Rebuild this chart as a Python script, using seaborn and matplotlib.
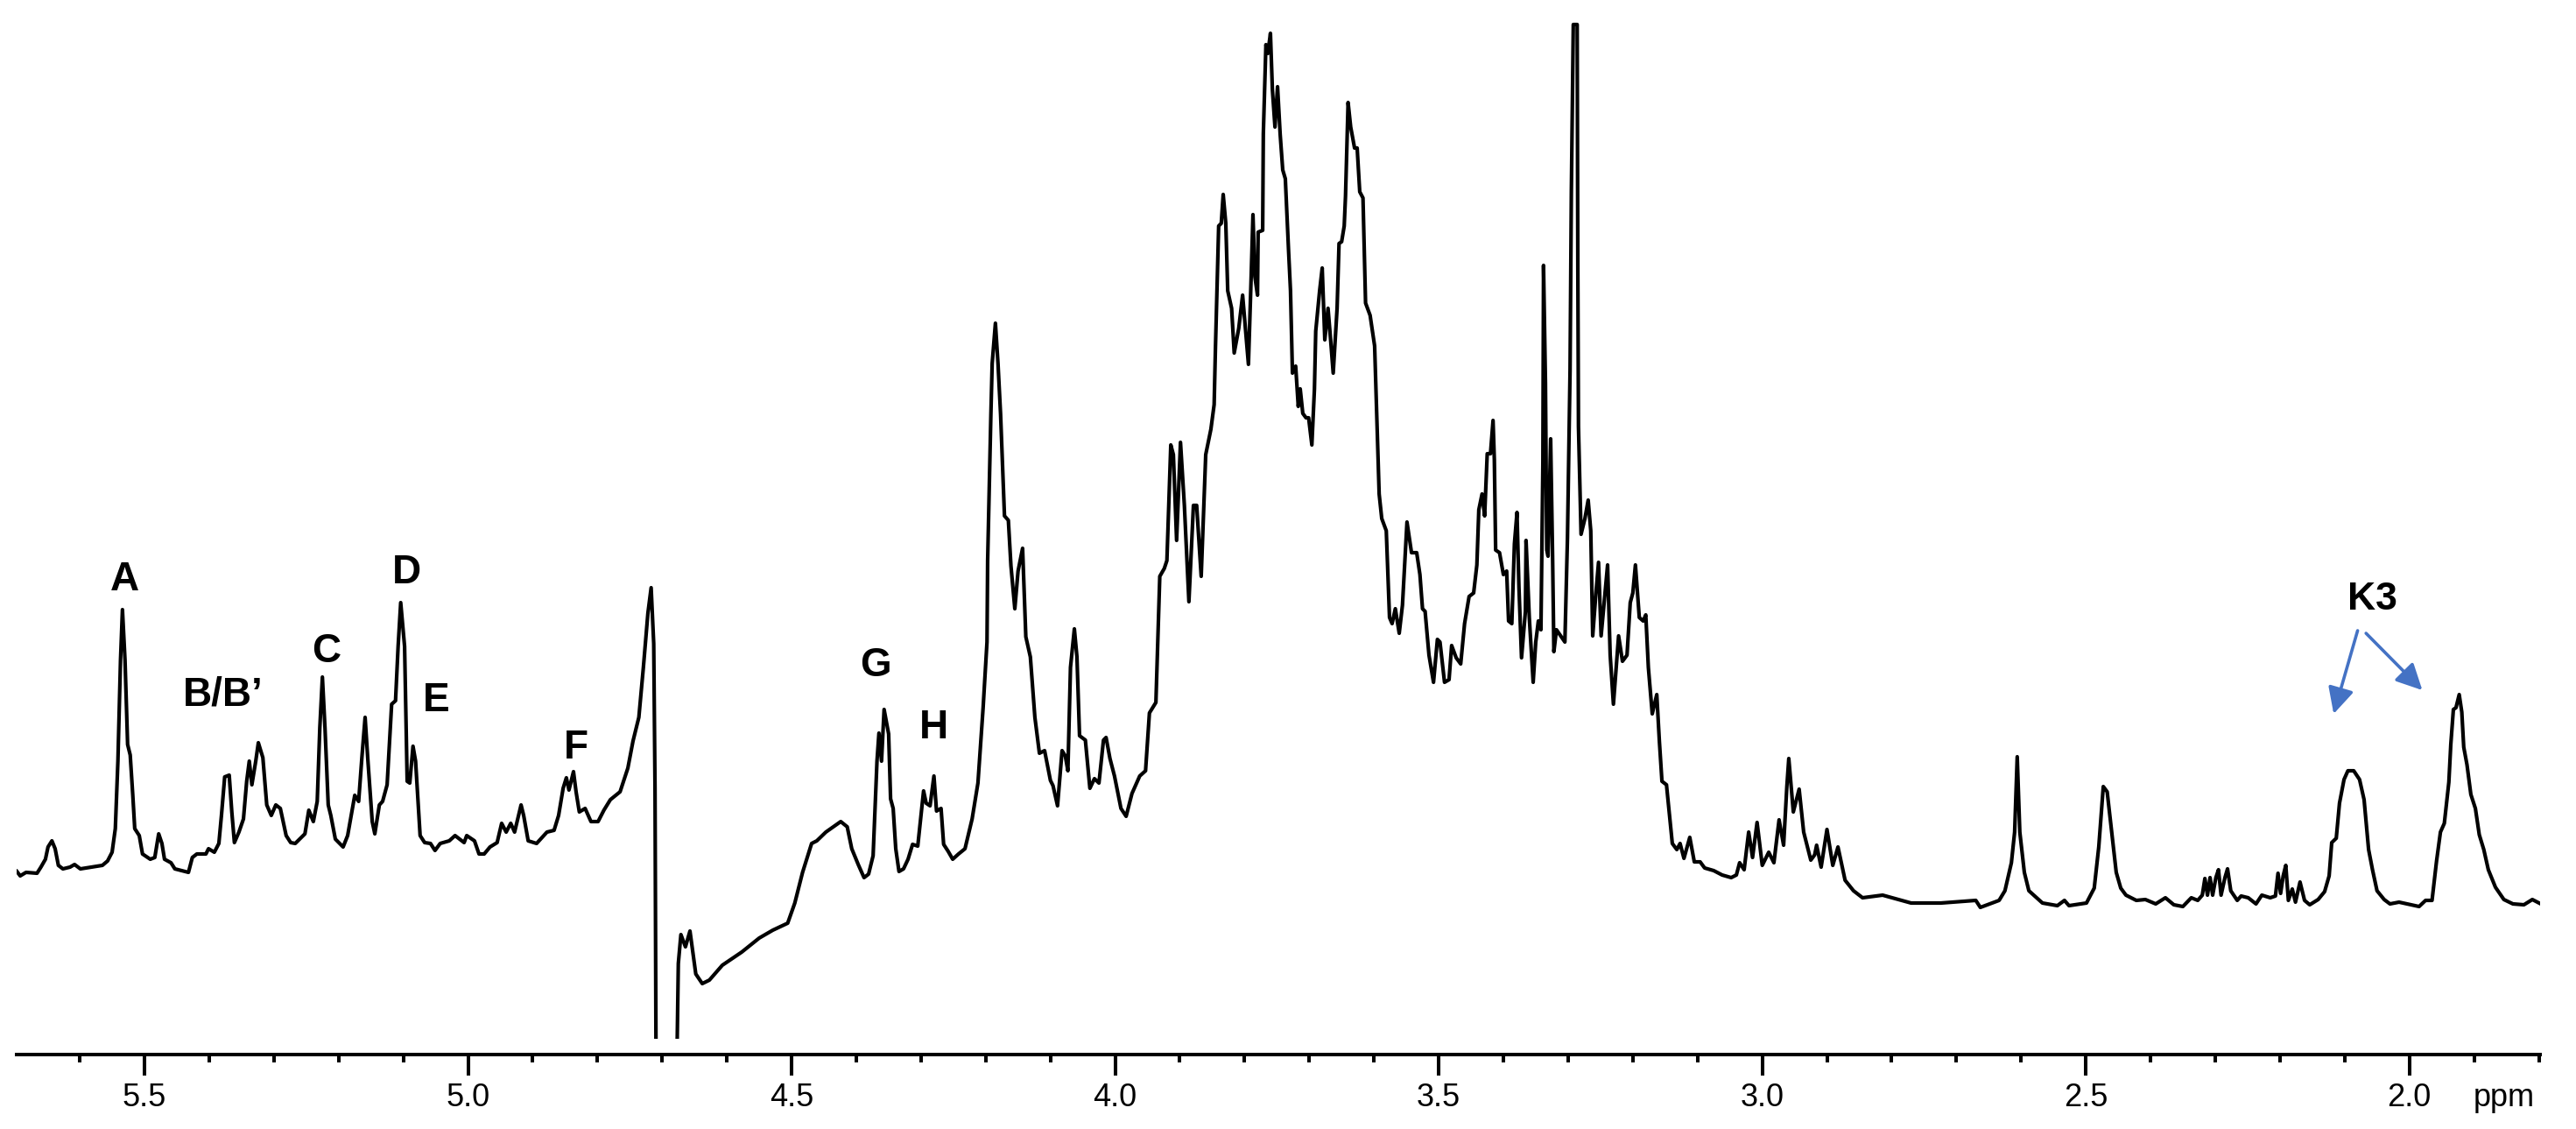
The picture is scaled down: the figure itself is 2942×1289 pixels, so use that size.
import numpy as np
import pandas as pd
import matplotlib
matplotlib.use("Agg")
import matplotlib.pyplot as plt
import seaborn as sns
from matplotlib.ticker import MultipleLocator, FormatStrFormatter

# 1H NMR trace: (chemical shift ppm, intensity a.u.)
anomeric = [
    (5.698, 210), (5.692, 204), (5.683, 208), (5.666, 207), (5.660, 214), (5.653, 223),
    (5.649, 237), (5.643, 244), (5.638, 235), (5.633, 216), (5.626, 212), (5.615, 214),
    (5.608, 217), (5.599, 212), (5.565, 216), (5.557, 221), (5.550, 231), (5.545, 258),
    (5.541, 335), (5.537, 450), (5.534, 508), (5.530, 450), (5.526, 354), (5.522, 342),
    (5.518, 296), (5.515, 258), (5.508, 250), (5.503, 229), (5.491, 223), (5.484, 225),
    (5.478, 252), (5.473, 241), (5.469, 223), (5.459, 219), (5.453, 212), (5.432, 208),
    (5.426, 225), (5.419, 229), (5.405, 229), (5.401, 235), (5.392, 231), (5.385, 241),
    (5.381, 273), (5.376, 317), (5.369, 319), (5.365, 277), (5.361, 242), (5.354, 254),
    (5.347, 269), (5.342, 312), (5.338, 335), (5.334, 308), (5.328, 335), (5.324, 356),
    (5.317, 339), (5.311, 285), (5.304, 273), (5.297, 285), (5.290, 281), (5.281, 250),
    (5.274, 242), (5.267, 241), (5.252, 252), (5.246, 279), (5.239, 266), (5.233, 289),
    (5.229, 373), (5.225, 431), (5.221, 373), (5.216, 285), (5.212, 273), (5.205, 246),
    (5.193, 237), (5.186, 250), (5.175, 296), (5.169, 289), (5.164, 339), (5.159, 385),
    (5.155, 339), (5.148, 266), (5.144, 252), (5.137, 285), (5.132, 289), (5.125, 308),
    (5.118, 400), (5.112, 404), (5.108, 466), (5.104, 516), (5.098, 466), (5.094, 312),
    (5.090, 310), (5.085, 352), (5.081, 335), (5.074, 250), (5.067, 242), (5.058, 241),
    (5.051, 233), (5.043, 241), (5.029, 244), (5.020, 250), (5.006, 242), (5.002, 250),
    (4.990, 244), (4.983, 229), (4.975, 229), (4.966, 237), (4.955, 242), (4.948, 264),
    (4.941, 254), (4.934, 264), (4.928, 254), (4.918, 285), (4.914, 273), (4.907, 244),
    (4.894, 241), (4.878, 254), (4.867, 256), (4.860, 273), (4.853, 304), (4.848, 316),
    (4.844, 302), (4.837, 323), (4.833, 300), (4.828, 277), (4.819, 281), (4.810, 266),
    (4.799, 266), (4.790, 279), (4.780, 291), (4.765, 300), (4.753, 327), (4.745, 358),
    (4.736, 385), (4.729, 442), (4.722, 504), (4.717, 533), (4.713, 469), (4.711, 304),
    (4.709, -100),
]

ring_a = [
    (4.679, -100), (4.675, 104), (4.671, 137), (4.664, 123), (4.657, 141), (4.648, 92),
    (4.638, 81), (4.627, 85), (4.607, 102), (4.577, 117), (4.550, 133), (4.529, 142),
    (4.506, 150), (4.495, 173), (4.483, 208), (4.469, 241), (4.461, 244), (4.447, 254),
    (4.424, 266), (4.414, 260), (4.407, 235), (4.397, 217), (4.388, 202), (4.381, 206),
    (4.374, 227), (4.368, 335), (4.365, 367), (4.361, 335), (4.357, 394), (4.350, 366),
    (4.347, 292), (4.343, 281), (4.339, 235), (4.334, 209), (4.327, 212), (4.320, 223),
    (4.313, 240), (4.305, 238), (4.296, 301), (4.292, 287), (4.286, 284), (4.280, 318),
    (4.276, 278), (4.269, 281), (4.265, 240), (4.258, 232), (4.251, 223), (4.242, 229),
    (4.232, 235), (4.221, 269), (4.212, 310), (4.204, 396), (4.198, 471), (4.197, 564),
    (4.192, 731), (4.190, 789), (4.185, 835), (4.181, 789), (4.177, 731), (4.171, 615),
    (4.165, 610), (4.161, 558), (4.155, 509), (4.150, 552), (4.143, 578), (4.138, 477),
    (4.131, 454), (4.124, 385), (4.117, 344), (4.109, 347), (4.100, 313), (4.096, 307),
    (4.089, 284), (4.082, 347), (4.077, 341), (4.073, 324), (4.069, 442), (4.063, 486),
    (4.059, 454), (4.055, 364), (4.046, 359), (4.039, 304), (4.032, 315), (4.025, 310),
    (4.018, 359), (4.014, 362), (4.008, 338), (4.001, 318), (3.991, 281), (3.983, 272),
    (3.974, 298), (3.962, 318), (3.953, 324), (3.947, 390), (3.937, 402),
]

ring_b = [
    (3.931, 546), (3.924, 555), (3.920, 564), (3.914, 696), (3.910, 685), (3.905, 587),
    (3.899, 699), (3.893, 627), (3.886, 517), (3.879, 627), (3.874, 627), (3.867, 546),
    (3.860, 685), (3.852, 714), (3.847, 742), (3.845, 806), (3.840, 946), (3.836, 949),
    (3.833, 982), (3.829, 949), (3.826, 872), (3.820, 852), (3.816, 801), (3.809, 829),
    (3.803, 867), (3.799, 832), (3.794, 788), (3.790, 883), (3.787, 959), (3.784, 888),
    (3.780, 867), (3.779, 939), (3.772, 941), (3.771, 1051), (3.767, 1153), (3.764, 1143),
    (3.760, 1166), (3.757, 1102), (3.753, 1059), (3.749, 1105), (3.745, 1051), (3.741, 1010),
    (3.737, 1000), (3.732, 918), (3.729, 872), (3.726, 778), (3.721, 786), (3.717, 740),
    (3.714, 760), (3.710, 732), (3.705, 727), (3.701, 727), (3.696, 696), (3.692, 760),
    (3.690, 826), (3.684, 872), (3.680, 898), (3.676, 816), (3.671, 852), (3.667, 816),
    (3.663, 778), (3.657, 852), (3.654, 926), (3.650, 928), (3.646, 946), (3.644, 980),
    (3.640, 1087), (3.636, 1059), (3.630, 1035), (3.626, 1035), (3.622, 985), (3.617, 978),
    (3.613, 858), (3.606, 844), (3.599, 809), (3.592, 640), (3.588, 612), (3.581, 598),
    (3.576, 499), (3.572, 492), (3.567, 509), (3.561, 481), (3.556, 513), (3.549, 608),
    (3.542, 573), (3.534, 573), (3.529, 548), (3.525, 509), (3.521, 506), (3.515, 456),
    (3.508, 425), (3.502, 474), (3.498, 471), (3.491, 425), (3.484, 428), (3.480, 467),
    (3.473, 453), (3.466, 446), (3.460, 492), (3.453, 523), (3.446, 527), (3.441, 559),
    (3.438, 622), (3.433, 640), (3.429, 615), (3.425, 686), (3.420, 686), (3.416, 724),
    (3.414, 679), (3.412, 576), (3.406, 573), (3.400, 548), (3.395, 552), (3.392, 495),
    (3.387, 492), (3.383, 583), (3.379, 619), (3.376, 534), (3.372, 453), (3.366, 506),
    (3.365, 587), (3.360, 499), (3.354, 425), (3.350, 471), (3.346, 495), (3.342, 485),
    (3.339, 675), (3.338, 901), (3.335, 767), (3.333, 576), (3.331, 569), (3.327, 703),
    (3.324, 569), (3.322, 460), (3.318, 485), (3.305, 471), (3.301, 590), (3.297, 781),
    (3.295, 985), (3.292, 1176), (3.286, 1176), (3.285, 901), (3.284, 717), (3.280, 594),
    (3.274, 612), (3.269, 633), (3.265, 598), (3.262, 478), (3.257, 527), (3.253, 562),
    (3.249, 478), (3.243, 527), (3.239, 559), (3.235, 456), (3.230, 400), (3.222, 478),
    (3.216, 449), (3.209, 456), (3.204, 516), (3.200, 527), (3.196, 559), (3.190, 499),
    (3.184, 495), (3.180, 502), (3.176, 442), (3.170, 389), (3.163, 411), (3.159, 358),
    (3.155, 312), (3.148, 308), (3.139, 241), (3.132, 234), (3.127, 241), (3.121, 224),
    (3.112, 248), (3.105, 220), (3.096, 220), (3.089, 213), (3.075, 210),
]

aliphatic = [
    (3.062, 205), (3.048, 202), (3.040, 205), (3.035, 219), (3.028, 211), (3.021, 254),
    (3.015, 225), (3.008, 265), (3.000, 216), (2.990, 231), (2.982, 219), (2.974, 268),
    (2.967, 239), (2.962, 306), (2.959, 338), (2.952, 277), (2.943, 303), (2.936, 254),
    (2.925, 222), (2.919, 228), (2.916, 239), (2.909, 214), (2.900, 257), (2.891, 216),
    (2.883, 237), (2.872, 199), (2.859, 187), (2.845, 179), (2.814, 182), (2.770, 173),
    (2.724, 173), (2.670, 176), (2.663, 168), (2.634, 176), (2.625, 187), (2.615, 219),
    (2.610, 254), (2.606, 340), (2.602, 254), (2.595, 208), (2.588, 187), (2.567, 173),
    (2.544, 170), (2.533, 176), (2.526, 170), (2.499, 173), (2.487, 190), (2.480, 237),
    (2.473, 306), (2.467, 300), (2.460, 254), (2.453, 208), (2.446, 190), (2.438, 182),
    (2.422, 176), (2.408, 177), (2.392, 172), (2.377, 179), (2.364, 171), (2.350, 169),
    (2.337, 179), (2.327, 176), (2.320, 182), (2.316, 201), (2.312, 182), (2.308, 202),
    (2.304, 182), (2.299, 202), (2.295, 211), (2.291, 182), (2.285, 202), (2.281, 212),
    (2.276, 187), (2.266, 176), (2.260, 181), (2.249, 179), (2.237, 172), (2.228, 182),
    (2.215, 179), (2.207, 181), (2.203, 207), (2.199, 184), (2.195, 204), (2.191, 216),
    (2.187, 176), (2.181, 189), (2.176, 174), (2.169, 197), (2.162, 176), (2.154, 171),
    (2.141, 177), (2.131, 186), (2.124, 204), (2.120, 242), (2.113, 247), (2.108, 287),
    (2.101, 314), (2.095, 324), (2.086, 324), (2.077, 314), (2.070, 291), (2.063, 234),
    (2.057, 211), (2.050, 187), (2.039, 177), (2.030, 172), (2.016, 174), (1.985, 169),
    (1.975, 176), (1.965, 176), (1.958, 221), (1.952, 254), (1.946, 264), (1.939, 311),
    (1.936, 354), (1.932, 394), (1.928, 396), (1.923, 411), (1.919, 391), (1.916, 351),
    (1.911, 331), (1.905, 297), (1.898, 281), (1.892, 251), (1.885, 234), (1.878, 211),
    (1.867, 191), (1.854, 177), (1.840, 172), (1.823, 171), (1.810, 177), (1.797, 172),
]

# peak labels (text, ppm, height)
peak_names = ["A", "B/B\u2019", "C", "D", "E", "F", "G", "H"]
peak_ppm = [5.531, 5.378, 5.219, 5.095, 5.049, 4.833, 4.370, 4.280]
peak_height = [542, 410, 460, 550, 404, 350, 444, 373]

k3_text = (2.057, 519)
k3_arrow_from = [(2.080, 484), (2.067, 481)]
k3_arrow_to = [(2.117, 389), (1.980, 416)]

sns.set_style("white")
plt.rcParams["font.family"] = ["Liberation Sans", "DejaVu Sans"]
plt.rcParams["text.color"] = "black"

pts = anomeric + ring_a + ring_b + aliphatic
df = pd.DataFrame(pts, columns=["ppm", "intensity"])

W, H = 2942, 1289
fig = plt.figure(figsize=(W / 100, H / 100), dpi=100)
# plot area stops a little above the ppm axis, the axis sits just below it
ax = fig.add_axes([19 / W, 103 / H, 2882 / W, 1166 / H])

sns.lineplot(data=df, x="ppm", y="intensity", sort=False, estimator=None,
             color="black", lw=3.0, ax=ax)

ax.set_xlim(5.6975, 1.798)
ax.set_ylim(18, 1184)
for s in ["top", "left", "right"]:
    ax.spines[s].set_visible(False)
ax.spines["bottom"].set_position(("outward", 13))
ax.spines["bottom"].set_linewidth(2.9)
ax.spines["bottom"].set_color("black")

ax.xaxis.set_major_locator(MultipleLocator(0.5))
ax.xaxis.set_minor_locator(MultipleLocator(0.1))
ax.xaxis.set_major_formatter(FormatStrFormatter("%.1f"))
ax.tick_params(axis="x", which="major", bottom=True, direction="out",
               length=17, width=2.9, color="black", labelcolor="black",
               labelsize=26, pad=6)
ax.tick_params(axis="x", which="minor", bottom=True, direction="out",
               length=6.5, width=2.9, color="black")
ax.set_yticks([])
ax.set_xlabel("")
ax.set_ylabel("")

ax.annotate("ppm", xy=(1.854, 0), xycoords=("data", "axes fraction"),
            xytext=(0, -36), textcoords="offset points",
            ha="center", va="top", fontsize=26, color="black")

for name, x, y in zip(peak_names, peak_ppm, peak_height):
    ax.text(x, y, name, ha="center", va="center", fontsize=33,
            fontweight="bold", color="black")

ax.text(k3_text[0], k3_text[1], "K3", ha="center", va="center",
        fontsize=32, fontweight="bold", color="black")
for start, end in zip(k3_arrow_from, k3_arrow_to):
    ax.annotate("", xy=end, xytext=start,
                arrowprops=dict(arrowstyle="-|>,head_length=0.4,head_width=0.2",
                                mutation_scale=45, color="#4472C4", lw=2.6,
                                shrinkA=0, shrinkB=0))

fig.savefig("out.png", dpi=100)
